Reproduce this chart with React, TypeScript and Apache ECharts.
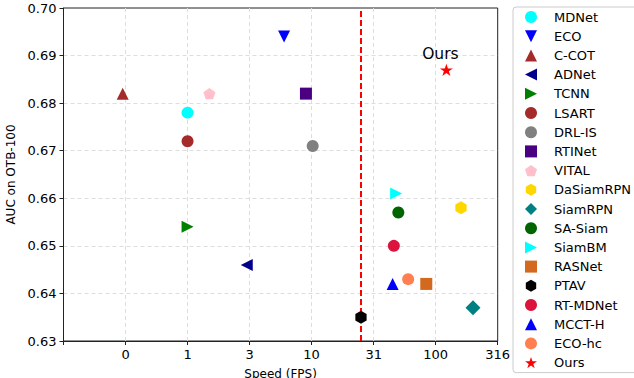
import React, { useEffect, useRef } from "react";
import * as echarts from "echarts";

const trackers = ["MDNet", "ECO", "C-COT", "ADNet", "TCNN", "LSART", "DRL-IS", "RTINet", "VITAL", "DaSiamRPN", "SiamRPN", "SA-Siam", "SiamBM", "RASNet", "PTAV", "RT-MDNet", "MCCT-H", "ECO-hc", "Ours"];
const speedsFps = [1, 6, 0.3, 3, 1, 1, 10.2, 9, 1.5, 160, 200, 50, 48, 84, 25, 46, 45, 60, 122];
const aucValues = [0.678, 0.694, 0.682, 0.646, 0.654, 0.672, 0.671, 0.682, 0.682, 0.658, 0.637, 0.657, 0.661, 0.642, 0.635, 0.65, 0.642, 0.643, 0.687];
const xTickValues = [-0.5, 0, 0.5, 1, 1.5, 2, 2.5];
const xTickLabels = ["0", "1", "3", "10", "31", "100", "316"];
const realTimeFps = 25;

const TRI_DOWN = "path://M0,0L2,0L1,2Z";
const TRI_LEFT = "path://M0,1L2,0L2,2Z";
const TRI_RIGHT = "path://M0,0L2,1L0,2Z";
const PENTAGON = "path://M0,-1L0.951,-0.309L0.588,0.809L-0.588,0.809L-0.951,-0.309Z";
const HEXAGON = "path://M0,-1L0.866,-0.5L0.866,0.5L0,1L-0.866,0.5L-0.866,-0.5Z";
const STAR = "path://M0,-1L0.2245,-0.309L0.951,-0.309L0.363,0.118L0.588,0.809L0,0.382L-0.588,0.809L-0.363,0.118L-0.951,-0.309L-0.2245,-0.309Z";

const styles: { symbol: string; color: string; size: number }[] = [
  { symbol: "circle", color: "#00ffff", size: 12 },
  { symbol: TRI_DOWN, color: "#0000ff", size: 12 },
  { symbol: "triangle", color: "#a52a2a", size: 12 },
  { symbol: TRI_LEFT, color: "#00008b", size: 12 },
  { symbol: TRI_RIGHT, color: "#008000", size: 12 },
  { symbol: "circle", color: "#a52a2a", size: 12 },
  { symbol: "circle", color: "#808080", size: 12 },
  { symbol: "rect", color: "#4b0082", size: 12 },
  { symbol: PENTAGON, color: "#ffc0cb", size: 12 },
  { symbol: HEXAGON, color: "#ffd700", size: 13 },
  { symbol: "diamond", color: "#008080", size: 15 },
  { symbol: "circle", color: "#006400", size: 12 },
  { symbol: TRI_RIGHT, color: "#00ffff", size: 12 },
  { symbol: "rect", color: "#d2691e", size: 12 },
  { symbol: HEXAGON, color: "#000000", size: 13 },
  { symbol: "circle", color: "#dc143c", size: 12 },
  { symbol: "triangle", color: "#0000ff", size: 12 },
  { symbol: "circle", color: "#ff7f50", size: 12 },
  { symbol: STAR, color: "#ff0000", size: 13 },
];

const FONT = "DejaVu Sans";

export default function App() {
  const ref = useRef<HTMLDivElement>(null);
  useEffect(() => {
    if (!ref.current) return;
    const chart = echarts.init(ref.current, null, { renderer: "svg" });
    const series: any[] = trackers.map((name, i) => ({
      name,
      type: "scatter",
      data: [[Math.log10(speedsFps[i]), aucValues[i]]],
      symbol: styles[i].symbol,
      symbolSize: styles[i].size,
      symbolKeepAspect: true,
      itemStyle: { color: styles[i].color, opacity: 1 },
      z: 3,
      label:
        name === "Ours"
          ? {
              show: true,
              formatter: "Ours",
              position: "top",
              distance: 2,
              offset: [-6, 0],
              fontSize: 15.5,
              fontFamily: FONT,
              color: "#000",
            }
          : { show: false },
    }));
    series.push({
      name: "boundary",
      type: "scatter",
      data: [[Math.log10(realTimeFps), 0.6595]],
      symbol: "none",
      label: {
        show: true,
        formatter: "Real-time\nboundary",
        position: "left",
        distance: 10,
        align: "right",
        fontSize: 13,
        lineHeight: 15,
        fontFamily: FONT,
        color: "#000",
      },
      markLine: {
        silent: true,
        symbol: "none",
        label: { show: false },
        lineStyle: { color: "#ff0000", type: [6, 3], width: 2 },
        data: [{ xAxis: Math.log10(realTimeFps) }],
        z: 2,
      },
      z: 2,
    });
    chart.setOption({
      animation: false,
      backgroundColor: "#ffffff",
      textStyle: { fontFamily: FONT },
      grid: {
        left: 63.5,
        right: 136.3,
        top: 8,
        bottom: 37,
        outerBoundsMode: "none",
        containLabel: false,
        show: true,
        borderColor: "#222",
        borderWidth: 1,
        backgroundColor: "transparent",
      },
      legend: {
        data: trackers,
        orient: "vertical",
        left: 513,
        top: 7,
        padding: [2.5, 30, 2.5, 12],
        itemGap: 4.2,
        itemWidth: 12,
        itemHeight: 12,
        borderColor: "#cccccc",
        borderWidth: 1,
        borderRadius: 3,
        backgroundColor: "#ffffff",
        textStyle: {
          fontSize: 13,
          lineHeight: 15,
          fontFamily: FONT,
          color: "#000",
          padding: [0, 0, 0, 12],
        },
      },
      xAxis: {
        type: "value",
        min: -1,
        max: 2.5,
        interval: 0.5,
        name: "Speed (FPS)",
        nameLocation: "middle",
        nameGap: 27,
        nameTextStyle: { fontSize: 12, fontFamily: FONT, color: "#000" },
        axisLine: { show: true, onZero: false, lineStyle: { color: "#222" } },
        axisTick: { show: true, length: 4, lineStyle: { color: "#222" } },
        axisLabel: {
          fontSize: 13,
          fontFamily: FONT,
          color: "#000",
          margin: 7,
          formatter: (v: number) => {
            const idx = xTickValues.findIndex((t) => Math.abs(t - v) < 1e-6);
            return idx >= 0 ? xTickLabels[idx] : "";
          },
        },
        splitLine: {
          show: true,
          showMinLine: false,
          showMaxLine: false,
          lineStyle: { color: "#dddddd", type: [4, 3], width: 1 },
        },
      },
      yAxis: {
        type: "value",
        min: 0.63,
        max: 0.7,
        interval: 0.01,
        name: "AUC on OTB-100",
        nameLocation: "middle",
        nameGap: 39,
        nameTextStyle: { fontSize: 12, fontFamily: FONT, color: "#000" },
        axisLine: { show: true, onZero: false, lineStyle: { color: "#222" } },
        axisTick: { show: true, length: 4, lineStyle: { color: "#222" } },
        axisLabel: {
          fontSize: 13,
          fontFamily: FONT,
          color: "#000",
          margin: 7,
          formatter: (v: number) => v.toFixed(2),
        },
        splitLine: {
          show: true,
          showMinLine: false,
          showMaxLine: false,
          lineStyle: { color: "#dddddd", type: [4, 3], width: 1 },
        },
      },
      series,
    });
    return () => chart.dispose();
  }, []);
  return (
    <div
      ref={ref}
      style={{ position: "absolute", left: 0, top: 0, width: 634, height: 378 }}
    />
  );
}
